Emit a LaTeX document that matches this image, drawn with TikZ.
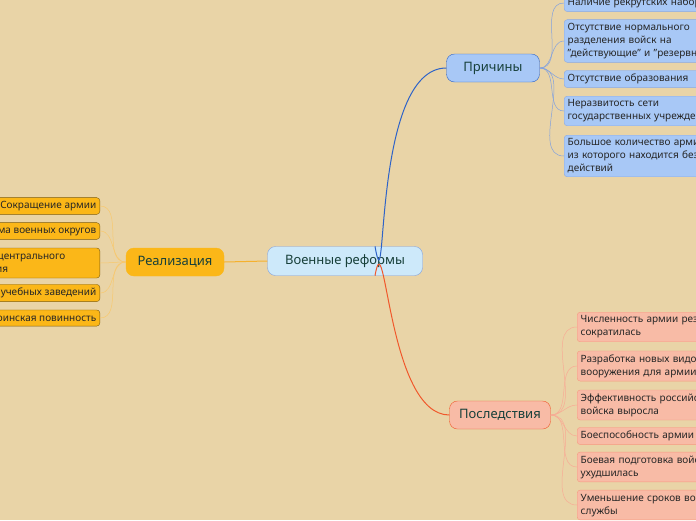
\documentclass[tikz,border=0pt]{standalone}
\usepackage{fontspec}
\setmainfont{Noto Sans}
\definecolor{bgc}{HTML}{E9D4A7}
\definecolor{rootfill}{HTML}{CDE9FA}
\definecolor{bluefill}{HTML}{A8C8F6}
\definecolor{blueline}{HTML}{2E63C8}
\definecolor{orfill}{HTML}{FBB718}
\definecolor{orline}{HTML}{F5B12E}
\definecolor{redfill}{HTML}{F8BBA6}
\definecolor{redline}{HTML}{F0582C}
\definecolor{headtxt}{HTML}{17403A}
\begin{document}
\begin{tikzpicture}[x=1pt,y=-1pt]
    \tikzset{topic/.style = {draw,rounded corners=8pt,minimum height=28pt,font=\fontsize{13}{15}\selectfont,text=headtxt,inner xsep=8pt}}
    \tikzset{leaf/.style = {draw,rounded corners=3pt,font=\fontsize{10}{13}\selectfont,align=left,inner sep=3.5pt,text=black!85}}
    \tikzset{link/.style = {out=0,in=180,line width=0.5pt}}
    \fill[bgc] (0,0) rectangle (696,520);
    \useasboundingbox (0,0) rectangle (696,520);
    \clip (0,0) rectangle (696,520);
    % main topics
    \node[topic,fill=rootfill,draw=blueline!60,minimum width=155pt,minimum height=29pt] (root) at (345,261) {Военные реформы};
    \node[topic,fill=bluefill,draw=blueline,minimum width=93pt] (why) at (493,68) {Причины};
    \node[topic,fill=orfill,draw=orfill,minimum width=98pt] (how) at (175,262) {Реализация};
    \node[topic,fill=redfill,draw=redline,minimum width=101pt] (then) at (500,415) {Последствия};
    % causes
    \tikzset{wleaf/.style = {leaf,fill=bluefill,draw=blueline!55,anchor=west,text width=190pt}}
    \node[wleaf] (w1) at (564,3) {Наличие рекрутских наборов};
    \node[wleaf] (w2) at (564,41) {Отсутствие нормального\\разделения войск на\\"действующие" и "резервные"};
    \node[wleaf] (w3) at (564,79) {Отсутствие образования};
    \node[wleaf] (w4) at (564,111) {Неразвитость сети\\государственных учреждений};
    \node[wleaf] (w5) at (564,156) {Большое количество армии,\\из которого находится без\\действий};
    % realisation
    \tikzset{hleaf/.style = {leaf,fill=orfill,draw=black!50!orfill,anchor=east}}
    \node[hleaf] (h1) at (100,206) {Сокращение армии};
    \node[hleaf] (h2) at (100,231) {Система военных округов};
    \node[hleaf,text width=146pt] (h3) at (100,263) {Реформа центрального\\управления};
    \node[hleaf] (h4) at (100,293) {Реформа учебных заведений};
    \node[hleaf] (h5) at (100,318) {Всеобщая воинская повинность};
    % results
    \tikzset{tleaf/.style = {leaf,fill=redfill,draw=redline!60,anchor=west,text width=190pt}}
    \node[tleaf] (t1) at (577,327) {Численность армии резко\\сократилась};
    \node[tleaf] (t2) at (577,366) {Разработка новых видов\\вооружения для армии};
    \node[tleaf] (t3) at (577,405) {Эффективность российской\\войска выросла};
    \node[tleaf] (t4) at (577,436) {Боеспособность армии выросла};
    \node[tleaf] (t5) at (577,467) {Боевая подготовка войск\\ухудшилась};
    \node[tleaf] (t6) at (577,505) {Уменьшение сроков военной\\службы};
    % edges
    \draw[blueline,line width=1pt] (root.north)+(30,0) to[out=-80,in=180] (why.west);
    \draw[orline,line width=1pt] (root.west) -- (how.east);
    \draw[redline,line width=1pt] (root.south)+(30,0) to[out=80,in=180] (then.west);
    \foreach \n in {w1,w2,w3,w4,w5}
        \draw[link,blueline!60] (why.east) to (\n.west);
    \foreach \n in {h1,h2,h3,h4,h5}
        \draw[link,orline!70,out=180,in=0] (how.west) to (\n.east);
    \foreach \n in {t1,t2,t3,t4,t5,t6}
        \draw[link,redline!50] (then.east) to (\n.west);
\end{tikzpicture}
\end{document}
